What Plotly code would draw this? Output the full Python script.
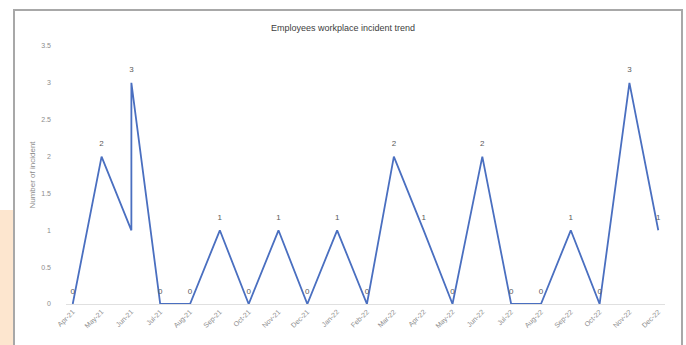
import plotly.graph_objects as go

months = ["2021-04-01", "2021-05-01", "2021-06-01", "2021-06-01", "2021-07-01", "2021-08-01",
          "2021-09-01", "2021-10-01", "2021-11-01", "2021-12-01", "2022-01-01", "2022-02-01",
          "2022-03-01", "2022-04-01", "2022-05-01", "2022-06-01", "2022-07-01", "2022-08-01",
          "2022-09-01", "2022-10-01", "2022-11-01", "2022-12-01"]
incidents = [0, 2, 1, 3, 0, 0, 1, 0, 1, 0, 1, 0, 2, 1, 0, 2, 0, 0, 1, 0, 3, 1]
labels = ["0", "2", "", "3", "0", "0", "1", "0", "1", "0", "1", "0", "2", "1", "0", "2", "0", "0", "1", "0", "3", "1"]

tick_vals = ["2021-04-01", "2021-05-01", "2021-06-01", "2021-07-01", "2021-08-01", "2021-09-01",
             "2021-10-01", "2021-11-01", "2021-12-01", "2022-01-01", "2022-02-01", "2022-03-01",
             "2022-04-01", "2022-05-01", "2022-06-01", "2022-07-01", "2022-08-01", "2022-09-01",
             "2022-10-01", "2022-11-01", "2022-12-01"]
tick_text = ["Apr-21", "May-21", "Jun-21", "Jul-21", "Aug-21", "Sep-21", "Oct-21", "Nov-21",
             "Dec-21", "Jan-22", "Feb-22", "Mar-22", "Apr-22", "May-22", "Jun-22", "Jul-22",
             "Aug-22", "Sep-22", "Oct-22", "Nov-22", "Dec-22"]

FONT = "Liberation Sans"

fig = go.Figure()
fig.add_trace(go.Scatter(
    x=months, y=incidents, mode="lines+markers+text", text=labels,
    textposition="top center", textfont=dict(family=FONT, size=8, color="#595959"),
    marker=dict(size=12, color="rgba(0,0,0,0)"),
    line=dict(color="#4a6fc0", width=1.8), cliponaxis=False, showlegend=False,
))

L, R, T, B = 66, 21, 46, 41
W, H = 686, 345
pw, ph = W - L - R, H - T - B

def px(x):
    return (x - L) / pw

def py(y):
    return (H - B - y) / ph

shapes = [
    dict(type="rect", xref="paper", yref="paper", x0=px(0), x1=px(13), y0=py(346), y1=py(210),
         fillcolor="#fde6cf", line=dict(width=0), layer="below"),
    dict(type="rect", xref="paper", yref="paper", x0=px(14), x1=px(682), y0=py(350), y1=py(10),
         fillcolor="rgba(0,0,0,0)", line=dict(color="#a8a8a8", width=2)),
]

fig.update_layout(
    width=W, height=H,
    margin=dict(l=L, r=R, t=T, b=B, autoexpand=False),
    paper_bgcolor="white", plot_bgcolor="white",
    title=dict(text="Employees workplace incident trend", x=0.5, xanchor="center",
               y=1 - 28 / H, yanchor="middle", font=dict(family=FONT, size=9, color="#404040")),
    shapes=shapes,
    xaxis=dict(
        type="date", range=["2021-03-25", "2022-12-08"],
        tickvals=tick_vals, ticktext=tick_text, tickangle=-45,
        tickfont=dict(family=FONT, size=7, color="#8c8c8c"),
        showgrid=False, zeroline=False, showline=True, linecolor="#e0e0e0", linewidth=1,
        ticks="", automargin=False,
    ),
    yaxis=dict(
        range=[0, 3.5], dtick=0.5, tickvals=[0, 0.5, 1, 1.5, 2, 2.5, 3, 3.5],
        ticktext=["0", "0.5", "1", "1.5", "2", "2.5", "3", "3.5"],
        tickfont=dict(family=FONT, size=7, color="#8c8c8c"),
        showgrid=False, zeroline=False, showline=False, ticks="",
        ticklabelstandoff=14, automargin=False,
        title=dict(text="Number of incident", standoff=4,
                   font=dict(family=FONT, size=8, color="#8c8c8c")),
    ),
)

fig.write_html("out.html")
